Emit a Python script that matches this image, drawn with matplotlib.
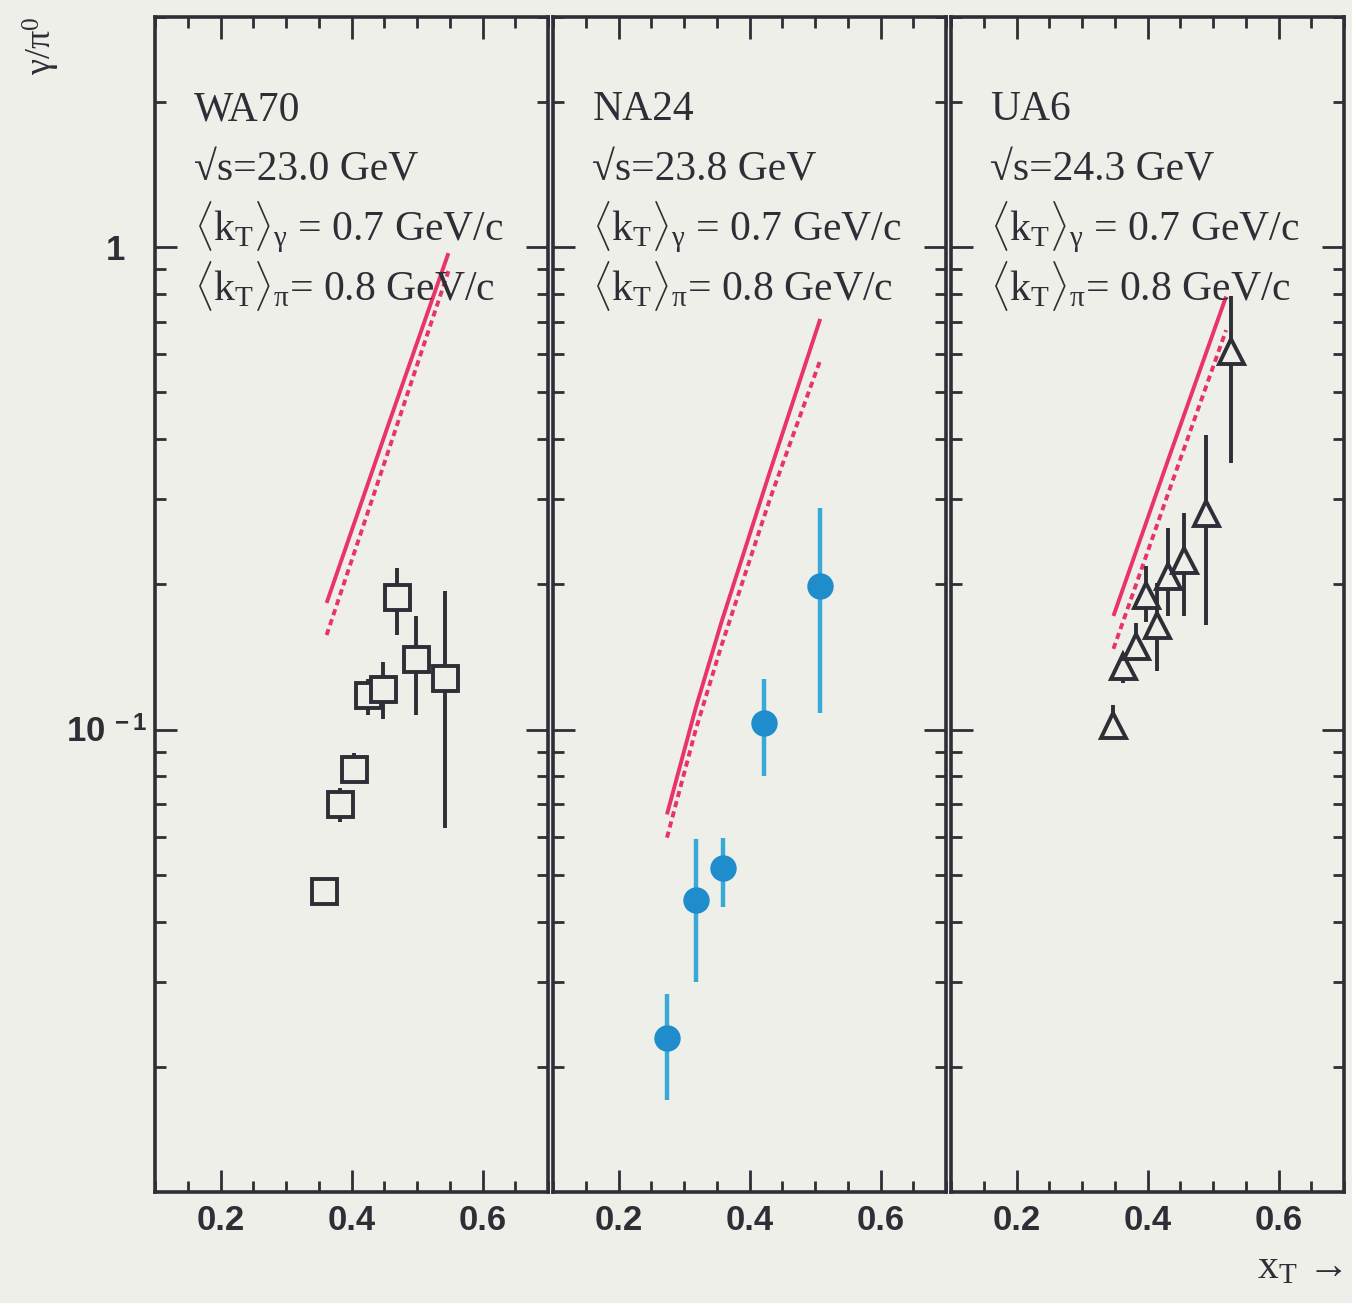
import matplotlib
matplotlib.use("Agg")
import matplotlib.pyplot as plt
import matplotlib.transforms as mtransforms
from matplotlib.ticker import MultipleLocator, LogLocator, FixedLocator, FixedFormatter, NullFormatter

plt.rcParams['mathtext.fontset'] = 'custom'
plt.rcParams['mathtext.rm'] = 'Liberation Serif'
plt.rcParams['mathtext.it'] = 'Liberation Serif:italic'
plt.rcParams['mathtext.sf'] = 'Liberation Sans:bold'

# WA70, sqrt(s) = 23.0 GeV (open squares)
wa70_x = [0.358, 0.382, 0.404, 0.425, 0.448, 0.470, 0.499, 0.543]
wa70_y = [0.0463, 0.0701, 0.0830, 0.118, 0.1215, 0.188, 0.140, 0.128]
wa70_lo = [0.0455, 0.0642, 0.0776, 0.107, 0.105, 0.157, 0.107, 0.0626]
wa70_hi = [0.0471, 0.0756, 0.0894, 0.1275, 0.138, 0.216, 0.172, 0.194]

# NA24, sqrt(s) = 23.8 GeV (filled circles)
na24_x = [0.274, 0.318, 0.360, 0.4215, 0.508]
na24_y = [0.0229, 0.0444, 0.0516, 0.1034, 0.198]
na24_lo = [0.0171, 0.030, 0.0428, 0.080, 0.108]
na24_hi = [0.0283, 0.0594, 0.0597, 0.127, 0.288]

# UA6, sqrt(s) = 24.3 GeV (open triangles)
ua6_x = [0.348, 0.363, 0.383, 0.398, 0.414, 0.432, 0.455, 0.490, 0.527]
ua6_y = [0.102, 0.1355, 0.149, 0.190, 0.165, 0.208, 0.225, 0.281, 0.609]
ua6_lo = [0.0956, 0.125, 0.1395, 0.167, 0.1325, 0.172, 0.172, 0.165, 0.357]
ua6_hi = [0.1126, 0.144, 0.1666, 0.218, 0.201, 0.262, 0.281, 0.408, 0.791]

# pQCD curves: solid <kT>_gamma = 0.7, dashed <kT>_pi = 0.8
wa70_cx = [0.362, 0.454, 0.548]
wa70_solid = [0.183, 0.42, 0.972]
wa70_dashed = [0.157, 0.37, 0.892]

na24_cx = [0.274, 0.318, 0.357, 0.431, 0.508]
na24_solid = [0.0667, 0.111, 0.1667, 0.342, 0.71]
na24_dashed = [0.0597, 0.100, 0.149, 0.300, 0.583]

ua6_cx = [0.348, 0.432, 0.520]
ua6_solid = [0.172, 0.364, 0.79]
ua6_dashed = [0.147, 0.31, 0.673]

experiments = ['WA70', 'NA24', 'UA6']
energies = ['23.0', '23.8', '24.3']

bg = '#efefea'
ink = '#2e2e36'
red = '#e8336b'

fig = plt.figure(figsize=(13.52, 13.03), dpi=100, facecolor=bg)

lefts = [155, 553, 951]
axes = []
for left in lefts:
    ax = fig.add_axes([left / 1352, 1 - 1192 / 1303, 393 / 1352, 1175 / 1303])
    ax.set_facecolor(bg)
    ax.set_yscale('log')
    ax.set_xlim(0.1, 0.7)
    ax.set_ylim(0.011, 3.0)
    ax.xaxis.set_major_locator(MultipleLocator(0.2))
    ax.xaxis.set_minor_locator(MultipleLocator(0.05))
    ax.yaxis.set_major_locator(FixedLocator([0.1, 1.0]))
    ax.yaxis.set_minor_locator(LogLocator(base=10, subs=range(2, 10)))
    ax.yaxis.set_minor_formatter(NullFormatter())
    ax.tick_params(which='both', direction='in', top=True, right=True,
                   color=ink, width=2)
    ax.tick_params(which='major', length=16, labelsize=25, labelcolor=ink, pad=9)
    ax.tick_params(which='minor', length=8)
    ax.tick_params(axis='y', which='major', pad=6)
    for lab in ax.get_xticklabels():
        lab.set_fontfamily('Liberation Sans')
        lab.set_fontweight('bold')
    for sp in ax.spines.values():
        sp.set_linewidth(2.6)
        sp.set_color(ink)
    axes.append(ax)

ax1, ax2, ax3 = axes
ax1.yaxis.set_major_formatter(FixedFormatter([r'$\mathsf{10}^{\mathsf{\,\,-1}}$', '1']))
for lab in ax1.get_yticklabels():
    lab.set_fontfamily('Liberation Sans')
    lab.set_fontweight('bold')
fig.canvas.draw()
one = ax1.get_yticklabels()[1]
one.set_transform(one.get_transform() + mtransforms.ScaledTranslation(-0.22, 0, fig.dpi_scale_trans))
for ax in (ax2, ax3):
    ax.yaxis.set_major_formatter(NullFormatter())

# theory curves
for ax, cx, sol, dash in [(ax1, wa70_cx, wa70_solid, wa70_dashed),
                          (ax2, na24_cx, na24_solid, na24_dashed),
                          (ax3, ua6_cx, ua6_solid, ua6_dashed)]:
    ax.plot(cx, sol, color=red, lw=2.8, solid_capstyle='butt')
    ax.plot(cx, dash, color=red, lw=2.8, linestyle=(0, (1.6, 1.1)))

# data points
def yerr(y, lo, hi):
    return [[a - b for a, b in zip(y, lo)], [b - a for a, b in zip(y, hi)]]

ax1.errorbar(wa70_x, wa70_y, yerr=yerr(wa70_y, wa70_lo, wa70_hi), fmt='s', ms=18,
             mfc=bg, mec=ink, mew=2.8, ecolor=ink, elinewidth=2.8, capsize=0, zorder=3)
ax2.errorbar(na24_x, na24_y, yerr=yerr(na24_y, na24_lo, na24_hi), fmt='o', ms=18,
             mfc='#1f8ccc', mec='#1f8ccc', ecolor='#39a9d8', elinewidth=3.2, capsize=0, zorder=3)
ax3.errorbar(ua6_x, ua6_y, yerr=yerr(ua6_y, ua6_lo, ua6_hi), fmt='^', ms=18,
             mfc=bg, mec=ink, mew=2.8, ecolor=ink, elinewidth=2.8, capsize=0, zorder=3)

# panel captions
serif = ['Liberation Serif', 'DejaVu Serif']
for ax, name, e in zip(axes, experiments, energies):
    kw = dict(transform=ax.transAxes, fontsize=30, color=ink, family=serif, va='baseline', ha='left')
    ax.text(0.10, 0.912, name, **kw)
    ax.text(0.10, 0.861, '\u221as=' + e + ' GeV', **kw)
    ax.text(0.10, 0.809, r'$\langle\mathrm{k_T}\rangle_{\mathrm{\gamma}}$ = 0.7 GeV/c', **kw)
    ax.text(0.10, 0.758, r'$\langle\mathrm{k_T}\rangle_{\mathrm{\pi}}$= 0.8 GeV/c', **kw)

fig.text(0.031, 0.987, r'$\mathrm{\gamma/\pi^{0}}$', rotation=90, ha='center', va='top',
         fontsize=26, color=ink, family=serif)
fig.text(0.993, 0.012, r'$\mathrm{x_T}$' + ' \u2192', ha='right', va='bottom',
         fontsize=30, color=ink, family=serif)

fig.savefig('out.png', dpi=100, facecolor=bg)
